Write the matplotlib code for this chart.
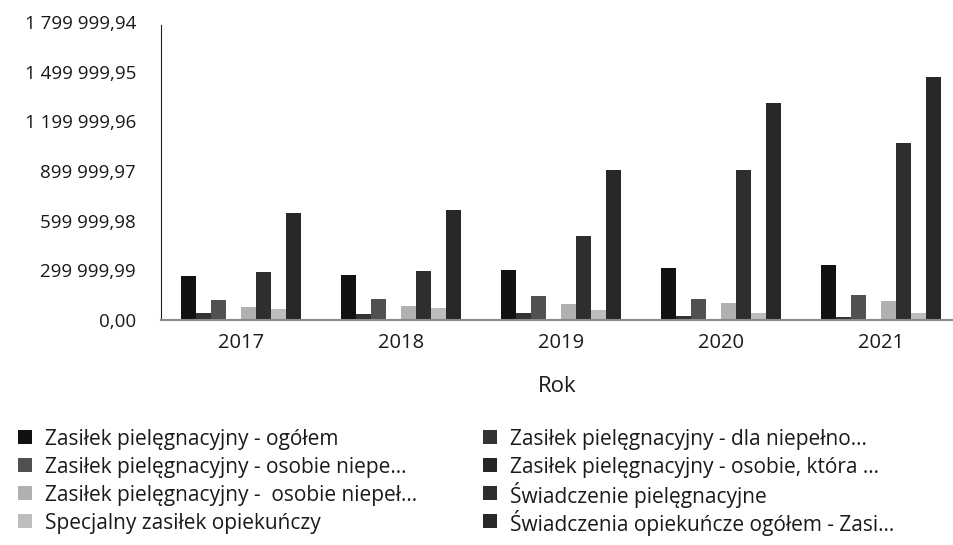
import numpy as np
import matplotlib
matplotlib.use("Agg")
import matplotlib.pyplot as plt
from matplotlib.patches import Rectangle

plt.rcParams["font.family"] = ["Open Sans", "DejaVu Sans"]

years = ["2017", "2018", "2019", "2020", "2021"]

series_names = [
    "Zasiłek pielęgnacyjny - ogółem",
    "Zasiłek pielęgnacyjny - dla niepełno...",
    "Zasiłek pielęgnacyjny - osobie niepe...",
    "Zasiłek pielęgnacyjny - osobie, która ...",
    "Zasiłek pielęgnacyjny -  osobie niepeł...",
    "Świadczenie pielęgnacyjne",
    "Specjalny zasiłek opiekuńczy",
    "Świadczenia opiekuńcze ogółem - Zasi...",
]

zp_ogolem = [265000, 272000, 305000, 314000, 335000]
zp_dla_niepelno = [40000, 36000, 40000, 22000, 18000]
zp_osobie_niepe = [120000, 127000, 145000, 128000, 148000]
zp_osobie_ktora = [1500, 2500, 3000, 1500, 1000]
zp_osobie_niepel = [78000, 84000, 96000, 105000, 113000]
swiadczenie_piel = [290000, 296000, 507000, 905000, 1068000]
specjalny_zasilek = [66000, 72000, 60000, 45000, 42000]
swiadczenia_ogolem = [645000, 664000, 905000, 1312000, 1470000]

series_values = [
    zp_ogolem, zp_dla_niepelno, zp_osobie_niepe, zp_osobie_ktora,
    zp_osobie_niepel, swiadczenie_piel, specjalny_zasilek, swiadczenia_ogolem,
]

tick_step = 299999.99
tick_count = 7

colors = ["#111111", "#333333", "#505050", "#262626",
          "#b0b0b0", "#2e2e2e", "#bdbdbd", "#282828"]

W, H = 954, 545
fig = plt.figure(figsize=(W / 100, H / 100), dpi=100)
ax = fig.add_axes([161 / W, 225 / H, 793 / W, 298 / H])

n = len(series_values)
group_width = 0.75
bar_w = group_width / n
x = np.arange(len(years))
for i, (vals, col) in enumerate(zip(series_values, colors)):
    offs = -group_width / 2 + bar_w * (i + 0.5)
    ax.bar(x + offs, vals, width=bar_w, color=col, edgecolor="none", zorder=2)

yticks = np.arange(tick_count) * tick_step
ax.set_ylim(0, yticks[-1])
ax.set_xlim(-0.5, -0.5 + 793 / 160)
ax.set_yticks(yticks)
ax.set_yticklabels([f"{v:,.2f}".replace(",", " ").replace(".", ",") for v in yticks])
ax.set_xticks(x)
ax.set_xticklabels(years)
ax.tick_params(axis="both", length=0, colors="#1a1a1a")
ax.tick_params(axis="y", pad=18, labelsize=13.5)
ax.tick_params(axis="x", pad=9, labelsize=14.5)
ax.set_xlabel("Rok", fontsize=16, color="#1a1a1a", labelpad=17)

for s in ("top", "right"):
    ax.spines[s].set_visible(False)
ax.spines["left"].set_color("#222222")
ax.spines["left"].set_linewidth(0.8)
ax.spines["left"].set_bounds(0, yticks[-1] * 0.99)
ax.spines["bottom"].set_color("#8a8a8a")
ax.spines["bottom"].set_linewidth(1.5)

# Two-column legend laid out row by row: series 0,1 in row 1, 2,3 in row 2, ...
col_x = [18, 483]
row_y = [437, 465, 493, 521]
box = 14
for i, (name, col) in enumerate(zip(series_names, colors)):
    cx = col_x[i % 2]
    cy = row_y[i // 2]
    fig.patches.append(Rectangle(((cx) / W, 1 - (cy + box / 2) / H), box / W, box / H,
                                 transform=fig.transFigure, facecolor=col,
                                 edgecolor="none"))
    fig.text((cx + 27) / W, 1 - cy / H, name, fontsize=15, color="#1a1a1a",
             ha="left", va="center_baseline")

fig.savefig("out.png", dpi=100)
